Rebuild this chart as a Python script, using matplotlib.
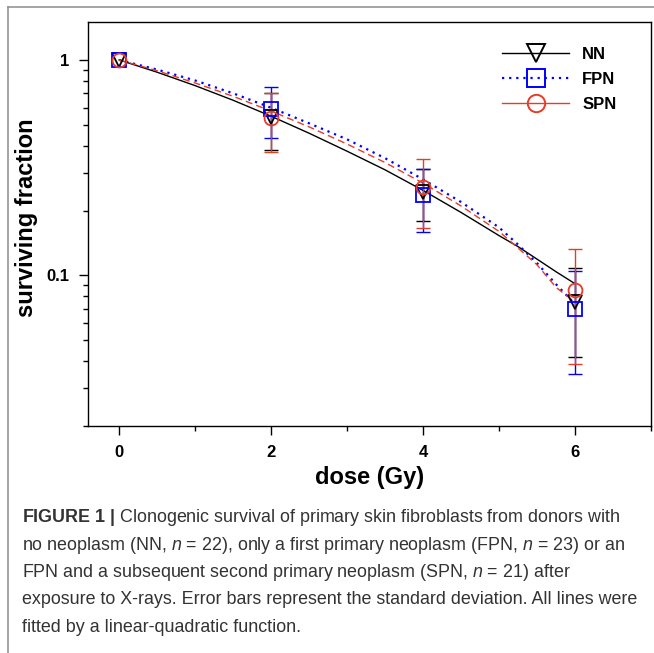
import matplotlib.pyplot as plt
import numpy as np
from matplotlib.lines import Line2D
from matplotlib.ticker import FixedLocator, LogLocator, MultipleLocator, NullFormatter


# measured points (dose in Gy, surviving fraction, standard deviation)
dose = [0, 2, 4, 6]
nn_sf = [1.0, 0.541, 0.245, 0.075]
nn_sd = [0.0, 0.158, 0.067, 0.033]
fpn_sf = [1.0, 0.590, 0.235, 0.070]
fpn_sd = [0.0, 0.157, 0.076, 0.035]
spn_sf = [1.0, 0.538, 0.256, 0.086]
spn_sd = [0.0, 0.163, 0.090, 0.047]

# fitted curves
fit_dose = [0, 0.5, 1, 1.5, 2, 2.5, 3, 3.5, 4, 4.5, 5, 5.25, 5.5, 5.75, 6]
nn_fit = [1.0, 0.877, 0.760, 0.650, 0.548, 0.457, 0.377, 0.309, 0.248, 0.196,
          0.153, 0.136, 0.119, 0.104, 0.0915]
fpn_fit = [1.0, 0.902, 0.803, 0.700, 0.600, 0.508, 0.428, 0.350, 0.279, 0.219,
           0.167, 0.139, 0.114, 0.091, 0.0735]
spn_fit = [1.0, 0.891, 0.782, 0.678, 0.579, 0.489, 0.407, 0.334, 0.268, 0.210,
           0.160, 0.134, 0.112, 0.088, 0.075]

labels = ["NN", "FPN", "SPN"]
xticks = [0, 2, 4, 6]
yticks = [0.1, 1]
ytick_labels = ["0.1", "1"]

caption = [
    r"$\mathbf{FIGURE\ 1\ |}$ Clonogenic survival of primary skin fibroblasts from donors with",
    r"no neoplasm (NN, $n$ = 22), only a first primary neoplasm (FPN, $n$ = 23) or an",
    r"FPN and a subsequent second primary neoplasm (SPN, $n$ = 21) after",
    r"exposure to X-rays. Error bars represent the standard deviation. All lines were",
    r"fitted by a linear-quadratic function.",
]

plt.rcParams['font.family'] = ['Liberation Sans', 'DejaVu Sans']
plt.rcParams['mathtext.fontset'] = 'custom'
plt.rcParams['mathtext.rm'] = 'Liberation Sans'
plt.rcParams['mathtext.it'] = 'Liberation Sans:italic'
plt.rcParams['mathtext.bf'] = 'Liberation Sans:bold'

W, H = 654, 653
fig = plt.figure(figsize=(W / 100, H / 100), dpi=100)
ax = fig.add_axes([88 / W, 1 - 426 / H, 563 / W, 404 / H])

red = "#e63c28"
styles = [
    dict(color="black", ls="-", lw=1.0, marker="v"),
    dict(color="#0000ff", ls=(0, (1, 2.2)), lw=1.6, marker="s"),
    dict(color=red, ls=(0, (5, 3)), lw=1.0, marker="o"),
]

fits = [nn_fit, fpn_fit, spn_fit]
means = [nn_sf, fpn_sf, spn_sf]
sds = [nn_sd, fpn_sd, spn_sd]

x = np.array(dose)
for st, fit in zip(styles, fits):
    ax.plot(fit_dose, fit, color=st["color"], ls=st["ls"], lw=st["lw"], zorder=2)

for st, m, s in zip(styles, means, sds):
    m = np.array(m)
    s = np.array(s)
    has = s > 0
    ax.errorbar(x[has], m[has], yerr=s[has], fmt="none", ecolor=st["color"],
                elinewidth=1.0, capsize=4.7, capthick=1.0, zorder=3)
    ax.plot(x, m, ls="none", marker=st["marker"], ms=10, mew=1.3,
            mec=st["color"], mfc="none", zorder=4)

ax.set_yscale("log")
ax.set_xlim(-0.41, 7)
ax.set_ylim(0.02, 1.5)

ax.xaxis.set_major_locator(FixedLocator(xticks))
ax.xaxis.set_minor_locator(MultipleLocator(1))
ax.yaxis.set_major_locator(FixedLocator(yticks))
ax.set_yticklabels(ytick_labels)
ax.yaxis.set_minor_locator(LogLocator(base=10, subs=np.arange(2, 10)))
ax.yaxis.set_minor_formatter(NullFormatter())

ax.tick_params(which="major", length=6.5, width=1.0, pad=7, labelsize=12)
ax.tick_params(which="minor", length=3.5, width=1.0)
ax.tick_params(top=False, right=False, which="both")
for lab in ax.get_xticklabels() + ax.get_yticklabels():
    lab.set_fontweight("bold")
for sp in ax.spines.values():
    sp.set_linewidth(1.0)

ax.set_xlabel("dose (Gy)", fontsize=17, fontweight="bold")
ax.set_ylabel("surviving fraction", fontsize=17, fontweight="bold")
ax.xaxis.set_label_coords(0.5, -0.10)
ax.yaxis.set_label_coords(-0.089, 0.515)

handles = []
for st, lab in zip(styles, labels):
    ls = st["ls"] if lab != "SPN" else "-"
    handles.append(Line2D([], [], color=st["color"], ls=ls, lw=st["lw"],
                          marker=st["marker"], ms=12.5, mew=1.4, mfc="none",
                          mec=st["color"]))
leg = ax.legend(handles, labels, loc="upper left", bbox_to_anchor=(0.721, 0.958),
                frameon=False, handlelength=4.0, handletextpad=0.8,
                labelspacing=0.6, borderpad=0, prop=dict(size=12, weight="bold"))

# page frame and caption
fig.add_artist(Line2D([7.5 / W, 7.5 / W], [0, 1 - 6.5 / H], color="#8c8c8c", lw=1.1))
fig.add_artist(Line2D([7.5 / W, 1], [1 - 6.5 / H, 1 - 6.5 / H], color="#8c8c8c", lw=1.1))

base = 522
for i, line in enumerate(caption):
    fig.text(22 / W, 1 - (base + i * 27.5) / H, line, fontsize=12.9,
             color="#333333", va="baseline", ha="left")

fig.savefig("out.png", dpi=100)
